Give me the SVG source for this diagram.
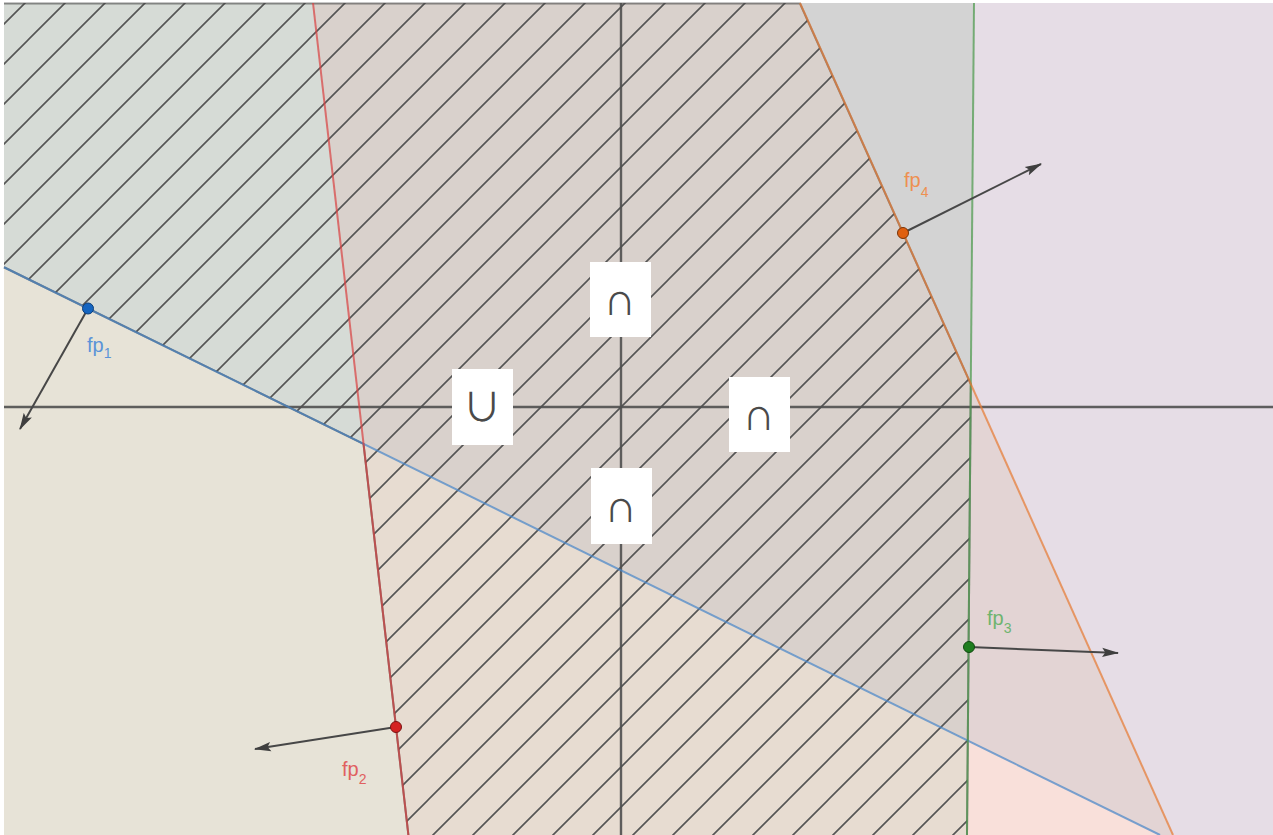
<svg xmlns="http://www.w3.org/2000/svg" width="1273" height="835" viewBox="0 0 1273 835">
<defs>
<style>
.ln{fill:none;stroke-width:2;stroke-opacity:0.72}
.ax{stroke:#4f4f4f;stroke-width:2.4;stroke-opacity:0.9}
.vec{stroke:#474747;stroke-width:2;fill:none}
.lab{font-family:"Liberation Sans","DejaVu Sans",sans-serif;font-size:20px}
.sub{font-size:14px}
.box{fill:#ffffff}
.sym{font-family:"Liberation Sans","Noto Sans CJK JP","DejaVu Sans",sans-serif;font-size:46px;fill:#4a4a4a;text-anchor:middle}
.cup{font-family:"Noto Sans CJK JP","DejaVu Sans",sans-serif;font-size:39px;fill:#4a4a4a;text-anchor:middle}
</style>
<pattern id="hatch" patternUnits="userSpaceOnUse" x="-12" y="0" width="40" height="40">
<path d="M-2,2 L2,-2 M0,40 L40,0 M38,42 L42,38" stroke="#555" stroke-width="1.6"/>
</pattern>
<marker id="ah" viewBox="0 0 16 10" refX="15" refY="5" markerUnits="userSpaceOnUse" markerWidth="17" markerHeight="11" orient="auto">
<path d="M0,0.6 L16,5 L0,9.4 L3,5 z" fill="#3f3f3f"/>
</marker>
</defs>
<rect width="1273" height="835" fill="#ffffff"/>
<g id="regions">
<rect x="4" y="3" width="1269" height="832" fill="#e6dde6"/>
<polygon points="4,3 313,3 363.5,443.8 4,267.25" fill="#d6dbd6"/>
<polygon points="313,3 800,3 970.8,384.2 967.8,740.6 363.5,443.8" fill="#d9d1cc"/>
<polygon points="363.5,443.8 967.8,740.6 967,835 408.4,835" fill="#e7dcd1"/>
<polygon points="4,267.25 363.5,443.8 408.4,835 4,835" fill="#e7e3d7"/>
<polygon points="800,3 974,3 970.8,384.2" fill="#d3d3d3"/>
<polygon points="970.8,384.2 1173,835 1160,835 967.8,740.6" fill="#e3d4d4"/>
<polygon points="967.8,740.6 1160,835 967,835" fill="#f9e0da"/>
</g>
<g id="hatching">
<polygon points="4,3 800,3 970.8,384.2 967,835 408.4,835 363.5,443.8 4,267.25" fill="url(#hatch)"/>
<polyline points="4,3.5 800,3.5 970.8,384.2 967,835" fill="none" stroke="#4a4a4a" stroke-width="2" stroke-opacity="0.6"/>
<polyline points="4,267.25 363.5,443.8 408.4,835" fill="none" stroke="#4a4a4a" stroke-width="2" stroke-opacity="0.75"/>
</g>
<g id="axes">
<line class="ax" x1="4" y1="407" x2="1273" y2="407"/>
<line class="ax" x1="621" y1="3" x2="621" y2="835"/>
</g>
<g id="connectors">
<line id="line-fp1" class="ln" stroke="#4a86c8" x1="4" y1="267.25" x2="1160" y2="835"/>
<line id="line-fp2" class="ln" stroke="#d84444" x1="313" y1="3" x2="408.4" y2="835"/>
<line id="line-fp3" class="ln" stroke="#4e9a4e" x1="974" y1="3" x2="967" y2="835"/>
<line id="line-fp4" class="ln" stroke="#e67c34" x1="800" y1="3" x2="1173" y2="835"/>
<line id="vec-fp1" class="vec" x1="88" y1="308.5" x2="20" y2="429" marker-end="url(#ah)"/>
<line id="vec-fp2" class="vec" x1="396" y1="727" x2="255" y2="749" marker-end="url(#ah)"/>
<line id="vec-fp3" class="vec" x1="969" y1="647" x2="1118" y2="653" marker-end="url(#ah)"/>
<line id="vec-fp4" class="vec" x1="903" y1="233" x2="1041" y2="164" marker-end="url(#ah)"/>
</g>
<g id="fp1">
<circle cx="88" cy="308.5" r="5.5" fill="#1565c0" stroke="#0e3f7a" stroke-width="1"/>
<text class="lab" x="87" y="352" fill="#5b94d8">fp<tspan class="sub" dy="6">1</tspan></text>
</g>
<g id="fp2">
<circle cx="396" cy="727" r="5.5" fill="#d42222" stroke="#7a1414" stroke-width="1"/>
<text class="lab" x="342" y="776" fill="#e06060">fp<tspan class="sub" dy="8">2</tspan></text>
</g>
<g id="fp3">
<circle cx="969" cy="647" r="5.5" fill="#1e7d1e" stroke="#124a12" stroke-width="1"/>
<text class="lab" x="987" y="625" fill="#6fb46f">fp<tspan class="sub" dy="8">3</tspan></text>
</g>
<g id="fp4">
<circle cx="903" cy="233" r="5.5" fill="#e06010" stroke="#7a3408" stroke-width="1"/>
<text class="lab" x="904" y="187" fill="#ee9050">fp<tspan class="sub" dy="10">4</tspan></text>
</g>
<g id="op-top">
<rect class="box" x="590" y="262" width="61" height="75"/>
<text class="sym" x="620" y="315">∩</text>
</g>
<g id="op-left">
<rect class="box" x="452" y="369" width="61" height="76"/>
<text class="cup" x="482" y="421">∪</text>
</g>
<g id="op-right">
<rect class="box" x="729" y="377" width="61" height="75"/>
<text class="sym" x="759" y="430">∩</text>
</g>
<g id="op-bottom">
<rect class="box" x="591" y="468" width="61" height="76"/>
<text class="sym" x="621" y="522">∩</text>
</g>
</svg>
